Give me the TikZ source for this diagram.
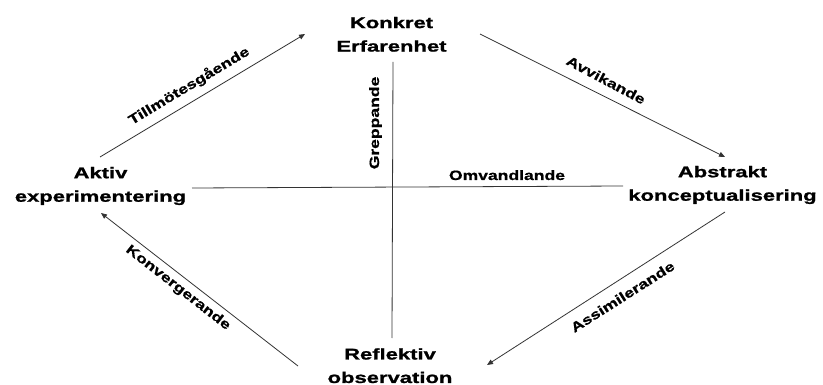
\documentclass[tikz,border=0pt]{standalone}
\usepackage{fontspec}
\setmainfont{Liberation Sans}
\newfontfamily\nodefam[FakeStretch=1.42, FakeBold=1.2]{Liberation Sans}
\newfontfamily\labfam[FakeStretch=1.3, FakeBold=0.8]{Liberation Sans}
\usetikzlibrary{arrows.meta}
\begin{document}
\begin{tikzpicture}[x=1pt,y=-1pt,
  stage/.style={align=center, inner sep=0pt, font=\nodefam\bfseries\fontsize{15.5}{23.5}\selectfont},
  lab/.style={inner sep=0pt, font=\labfam\bfseries\fontsize{13.5}{16}\selectfont},
  conn/.style={draw=black!80, line width=0.8pt},
  arr/.style={conn, -{Triangle[length=6pt,width=5pt]}}]
\path[use as bounding box, fill=white] (0,0) rectangle (823,385);

% stages
\node[stage] (ke) at (391.5,34.3) {Konkret\\Erfarenhet};
\node[stage] (ae) at (100.5,186) {Aktiv\\experimentering};
\node[stage] (ak) at (722.5,185) {Abstrakt\\konceptualisering};
\node[stage] (ro) at (390,365.7) {Reflektiv\\observation};

% connector ends
\coordinate (aeout) at (100,157);
\coordinate (kein)  at (305,34);
\coordinate (keout) at (480,34);
\coordinate (akin)  at (725,157);
\coordinate (akout) at (725,212);
\coordinate (roin)  at (487,365);
\coordinate (roout) at (298,366);
\coordinate (aein)  at (101,213);
\coordinate (vtop)  at (393,62);
\coordinate (vbot)  at (392,338);
\coordinate (hleft) at (192,188);
\coordinate (hright) at (623,186);

% connectors
\draw[arr] (aeout) -- (kein);
\draw[arr] (keout) -- (akin);
\draw[arr] (akout) -- (roin);
\draw[arr] (roout) -- (aein);
\draw[conn] (vtop) -- (vbot);
\draw[conn] (hleft) -- (hright);

% labels
\node[lab, rotate=31] (l1) at (189,86) {Tillmötesgående};
\node[lab, rotate=-28] (l2) at (606,80) {Avvikande};
\node[lab, rotate=32.5] (l3) at (622.5,296.7) {Assimilerande};
\node[lab, rotate=-38] (l4) at (178,288) {Konvergerande};
\node[lab, rotate=90] (l5) at (375.5,123) {Greppande};
\node[lab, anchor=base] (l6) at (507,180) {Omvandlande};
\end{tikzpicture}
\end{document}
